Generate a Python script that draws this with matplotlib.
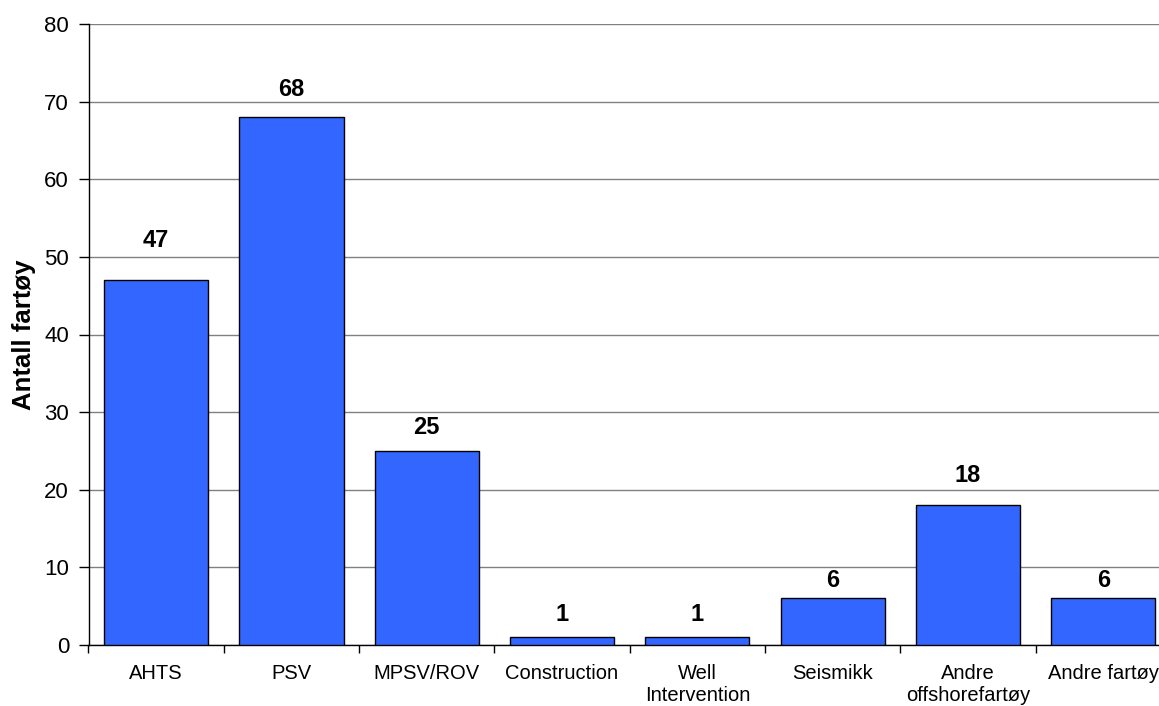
import matplotlib.pyplot as plt
import numpy as np

# Antall fartøy per type
kategorier = ["AHTS", "PSV", "MPSV/ROV", "Construction", "Well\nIntervention",
              "Seismikk", "Andre\noffshorefartøy", "Andre fartøy"]
antall = [47, 68, 25, 1, 1, 6, 18, 6]
y_ticks = [0, 10, 20, 30, 40, 50, 60, 70, 80]

# hvor høyt over søylen verdien står (i enheter på y-aksen)
etikett_avstand = [5.1, 3.5, 3.0, 2.9, 2.9, 2.3, 3.8, 2.3]

plt.rcParams['font.family'] = ['Liberation Sans', 'DejaVu Sans']

fig = plt.figure(figsize=(11.59, 7.06), dpi=100)
# plottet går litt ut over høyre kant
ax = fig.add_axes([88.5 / 1159, 61 / 706, 8 * 135.3 / 1159, 621 / 706])

x = np.arange(len(kategorier))
ax.bar(x, antall, width=0.77, color='#3366FF', edgecolor='black', linewidth=1, zorder=3)

for xi, v, d in zip(x, antall, etikett_avstand):
    ax.text(xi, v + d, str(v), ha='center', va='center', fontsize=17, fontweight='bold')

ax.set_xlim(-0.5, len(kategorier) - 0.5)
ax.set_ylim(0, 80)
ax.set_yticks(y_ticks)
ax.yaxis.grid(True, color='#808080', linewidth=1, zorder=0)

ax.set_xticks(np.arange(len(kategorier) + 1) - 0.5)
ax.set_xticklabels([])
ax.set_xticks(x, minor=True)
ax.set_xticklabels(kategorier, minor=True, fontsize=14.5, linespacing=1.2)
ax.tick_params(axis='x', which='major', length=6, width=1)
ax.tick_params(axis='x', which='minor', length=0, pad=14)
ax.tick_params(axis='y', length=7, width=1, pad=7, labelsize=16)

for side in ['top', 'right']:
    ax.spines[side].set_visible(False)
ax.spines['left'].set_linewidth(1)
ax.spines['bottom'].set_linewidth(1)

ax.set_ylabel("Antall fartøy", fontsize=18.5, fontweight='bold')
ax.yaxis.set_label_coords(-53 / (8 * 135.3), 0.5)

fig.savefig("out.png", dpi=100)
